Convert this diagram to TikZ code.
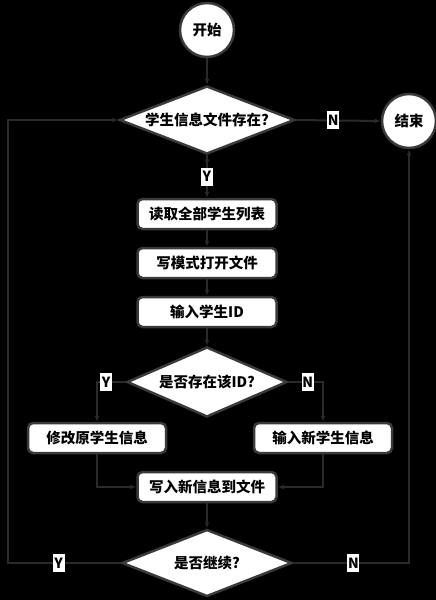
\documentclass[tikz,border=0pt]{standalone}
\usepackage{fontspec}
\setmainfont{Noto Sans CJK SC}
\usetikzlibrary{shapes.geometric,arrows.meta}
\definecolor{edgegray}{HTML}{2A2A2A}
\definecolor{bordergray}{HTML}{3A3A3A}
\begin{document}
\begin{tikzpicture}[x=1pt,y=-1pt,
        main node/.style={circle,draw=bordergray,line width=2.5pt,fill=white,minimum size=54pt,inner sep=0pt,font=\bfseries\fontsize{14.5}{16}\selectfont},
        box node/.style={rectangle,rounded corners=5pt,draw=bordergray,line width=2.5pt,fill=white,minimum width=139pt,minimum height=30pt,inner sep=0pt,font=\bfseries\fontsize{14.5}{16}\selectfont},
        choice node/.style={diamond,draw=bordergray,line width=2.5pt,fill=white,inner sep=0pt,aspect=2.5,font=\bfseries\fontsize{14.5}{16}\selectfont},
        yn node/.style={rectangle,fill=white,inner sep=0pt,minimum width=12pt,minimum height=18pt,font=\bfseries\fontsize{14}{15}\selectfont},
        link/.style={draw=edgegray,line width=2pt,-{Latex[length=6pt,width=5pt]}}]
    \fill[black] (0,0) rectangle (436,600);
    \useasboundingbox (0,0) rectangle (436,600);

    \node[main node] at (207, 30) (start) {开始};
    \node[choice node,minimum width=175pt,minimum height=68pt] at (207, 120) (exists) {学生信息文件存在?};
    \node[main node] at (409, 121) (end) {结束};
    \node[box node] at (207, 214) (read) {读取全部学生列表};
    \node[box node] at (207, 263) (open) {写模式打开文件};
    \node[box node] at (207, 312) (input) {输入学生ID};
    \node[choice node,minimum width=160pt,minimum height=70pt] at (207, 382) (found) {是否存在该ID?};
    \node[box node,minimum width=138pt] at (97, 438) (modify) {修改原学生信息};
    \node[box node,minimum width=138pt] at (323, 438) (new) {输入新学生信息};
    \node[box node] at (207, 487) (save) {写入新信息到文件};
    \node[choice node,minimum width=170pt,minimum height=67pt] at (207, 563) (again) {是否继续?};

    \coordinate (back) at (8, 563);

    \path[link]
        (start) edge (exists)
        (exists.east) edge node[yn node,pos=0.44] {N} (end.west)
        (exists.south) edge node[yn node] {Y} (read)
        (read) edge (open)
        (open) edge (input)
        (input) edge (found)
        (save) edge (again)
        ;
    \draw[link] (found.west) -| node[yn node,pos=0.34] {Y} (modify.north);
    \draw[link] (found.east) -| node[yn node,pos=0.28] {N} (new.north);
    \draw[link] (modify.south) |- (save.west);
    \draw[link] (new.south) |- (save.east);
    \draw[link] (again.west) -- node[yn node,pos=0.55] {Y} (back) |- (exists.west);
    \draw[link] (again.east) -| node[yn node,pos=0.26] {N} (end.south);
\end{tikzpicture}
\end{document}
